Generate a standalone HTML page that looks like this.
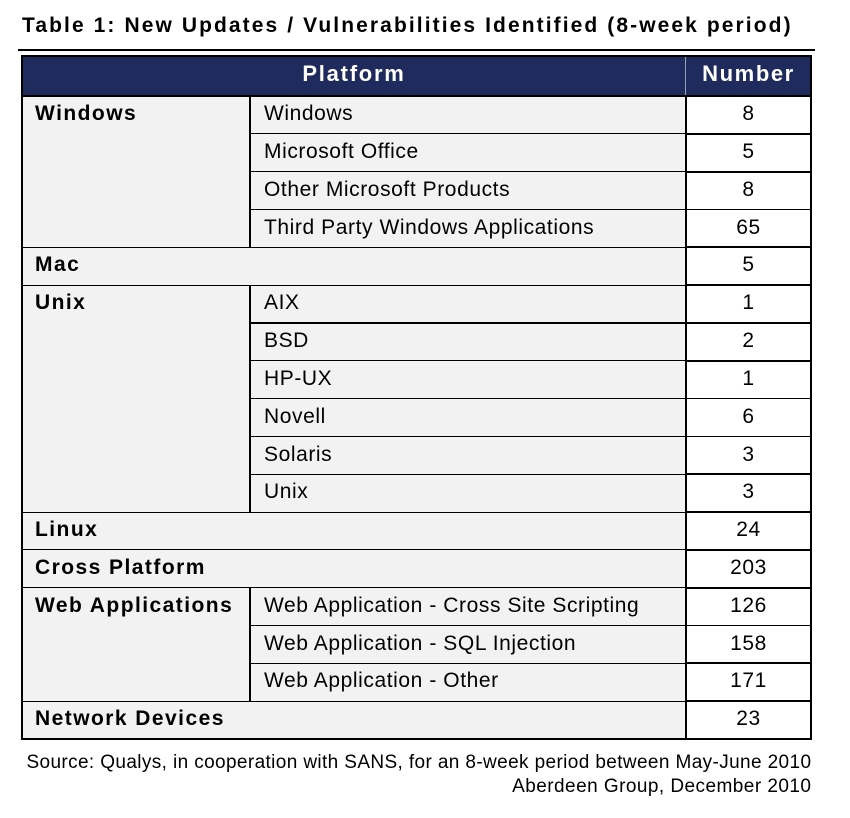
<!DOCTYPE html>
<html><head><meta charset="utf-8">
<style>
html,body{margin:0;padding:0;background:#fff;}
body{width:850px;height:818px;position:relative;overflow:hidden;font-family:"Liberation Sans",sans-serif;color:#000;}
div{position:absolute;}
.l{background:#000;}
.t{font-size:21px;line-height:24px;white-space:nowrap;letter-spacing:0.58px;}
.b{font-weight:bold;letter-spacing:1.45px;}
.n{left:686px;width:125px;text-align:center;}
.c1{left:35px;}
.c2{left:264px;}
</style></head><body>

<div style="left:22px;top:14px;font-size:21px;line-height:24px;font-weight:bold;letter-spacing:2.09px;white-space:nowrap;">Table 1: New Updates / Vulnerabilities Identified (8-week period)</div>
<div class="l" style="left:18px;top:49px;width:797px;height:2px;"></div>

<!-- backgrounds -->
<div style="left:22px;top:56px;width:789px;height:40px;background:#1f2a5d;"></div>
<div style="left:22px;top:96px;width:664px;height:643px;background:#f2f2f2;"></div>
<div style="left:686px;top:96px;width:125px;height:643px;background:#fff;"></div>

<!-- header text -->
<div style="left:22px;width:664px;top:61px;text-align:center;color:#fff;font-size:22px;line-height:26px;font-weight:bold;letter-spacing:1.75px;white-space:nowrap;">Platform</div>
<div style="left:686px;width:125px;top:61px;text-align:center;color:#fff;font-size:22px;line-height:26px;font-weight:bold;letter-spacing:1.6px;white-space:nowrap;">Number</div>
<div style="left:685px;top:57px;width:1px;height:39px;background:#9aa0b8;"></div>

<!-- borders -->
<div class="l" style="left:21px;top:55px;width:791px;height:2px;"></div>
<div class="l" style="left:21px;top:55px;width:2px;height:685px;"></div>
<div class="l" style="left:810px;top:55px;width:2px;height:685px;"></div>
<div class="l" style="left:21px;top:738px;width:791px;height:2px;"></div>
<div class="l" style="left:22px;top:95.3px;width:789px;height:1.5px;"></div>
<div class="l" style="left:685px;top:96px;width:2px;height:643px;"></div>

<!-- full-width group lines (22-686) -->
<div class="l" style="left:22px;top:246.8px;width:664px;height:1.2px;"></div>
<div class="l" style="left:22px;top:284.6px;width:664px;height:1.2px;"></div>
<div class="l" style="left:22px;top:511.5px;width:664px;height:1.2px;"></div>
<div class="l" style="left:22px;top:549.3px;width:664px;height:1.2px;"></div>
<div class="l" style="left:22px;top:587.1px;width:664px;height:1.2px;"></div>
<div class="l" style="left:22px;top:700.6px;width:664px;height:1.2px;"></div>

<!-- column 2 inner lines (250-686) -->
<div class="l" style="left:250px;top:133.3px;width:436px;height:1.2px;"></div>
<div class="l" style="left:250px;top:171.1px;width:436px;height:1.2px;"></div>
<div class="l" style="left:250px;top:208.9px;width:436px;height:1.2px;"></div>
<div class="l" style="left:250px;top:322.4px;width:436px;height:1.2px;"></div>
<div class="l" style="left:250px;top:360.2px;width:436px;height:1.2px;"></div>
<div class="l" style="left:250px;top:398px;width:436px;height:1.2px;"></div>
<div class="l" style="left:250px;top:435.8px;width:436px;height:1.2px;"></div>
<div class="l" style="left:250px;top:473.6px;width:436px;height:1.2px;"></div>
<div class="l" style="left:250px;top:624.9px;width:436px;height:1.2px;"></div>
<div class="l" style="left:250px;top:662.7px;width:436px;height:1.2px;"></div>

<!-- number column lines -->
<div class="l" style="left:686px;top:133px;width:125px;height:1.8px;"></div>
<div class="l" style="left:686px;top:170.8px;width:125px;height:1.8px;"></div>
<div class="l" style="left:686px;top:208.6px;width:125px;height:1.8px;"></div>
<div class="l" style="left:686px;top:246.4px;width:125px;height:1.8px;"></div>
<div class="l" style="left:686px;top:284.2px;width:125px;height:1.8px;"></div>
<div class="l" style="left:686px;top:322px;width:125px;height:1.8px;"></div>
<div class="l" style="left:686px;top:359.8px;width:125px;height:1.8px;"></div>
<div class="l" style="left:686px;top:397.7px;width:125px;height:1.8px;"></div>
<div class="l" style="left:686px;top:435.5px;width:125px;height:1.8px;"></div>
<div class="l" style="left:686px;top:473.3px;width:125px;height:1.8px;"></div>
<div class="l" style="left:686px;top:511.1px;width:125px;height:1.8px;"></div>
<div class="l" style="left:686px;top:548.9px;width:125px;height:1.8px;"></div>
<div class="l" style="left:686px;top:586.8px;width:125px;height:1.8px;"></div>
<div class="l" style="left:686px;top:624.6px;width:125px;height:1.8px;"></div>
<div class="l" style="left:686px;top:662.4px;width:125px;height:1.8px;"></div>
<div class="l" style="left:686px;top:700.2px;width:125px;height:1.8px;"></div>

<!-- vertical lines at x=250 -->
<div class="l" style="left:249.3px;top:96px;width:1.4px;height:152px;"></div>
<div class="l" style="left:249.3px;top:285px;width:1.4px;height:227.5px;"></div>
<div class="l" style="left:249.3px;top:587.5px;width:1.4px;height:114px;"></div>

<!-- row text -->
<div class="t b c1" style="top:102.1px;">Windows</div>
<div class="t c2" style="top:102.1px;">Windows</div>
<div class="t n" style="top:102.1px;">8</div>

<div class="t c2" style="top:139.9px;">Microsoft Office</div>
<div class="t n" style="top:139.9px;">5</div>

<div class="t c2" style="top:177.7px;">Other Microsoft Products</div>
<div class="t n" style="top:177.7px;">8</div>

<div class="t c2" style="top:215.6px;">Third Party Windows Applications</div>
<div class="t n" style="top:215.6px;">65</div>

<div class="t b c1" style="top:253.4px;">Mac</div>
<div class="t n" style="top:253.4px;">5</div>

<div class="t b c1" style="top:291.2px;">Unix</div>
<div class="t c2" style="top:291.2px;">AIX</div>
<div class="t n" style="top:291.2px;">1</div>

<div class="t c2" style="top:329px;">BSD</div>
<div class="t n" style="top:329px;">2</div>

<div class="t c2" style="top:366.8px;">HP-UX</div>
<div class="t n" style="top:366.8px;">1</div>

<div class="t c2" style="top:404.7px;">Novell</div>
<div class="t n" style="top:404.7px;">6</div>

<div class="t c2" style="top:442.5px;">Solaris</div>
<div class="t n" style="top:442.5px;">3</div>

<div class="t c2" style="top:480.3px;">Unix</div>
<div class="t n" style="top:480.3px;">3</div>

<div class="t b c1" style="top:518.1px;">Linux</div>
<div class="t n" style="top:518.1px;">24</div>

<div class="t b c1" style="top:555.9px;">Cross Platform</div>
<div class="t n" style="top:555.9px;">203</div>

<div class="t b c1" style="top:593.8px;">Web Applications</div>
<div class="t c2" style="top:593.8px;">Web Application - Cross Site Scripting</div>
<div class="t n" style="top:593.8px;">126</div>

<div class="t c2" style="top:631.6px;">Web Application - SQL Injection</div>
<div class="t n" style="top:631.6px;">158</div>

<div class="t c2" style="top:669.4px;">Web Application - Other</div>
<div class="t n" style="top:669.4px;">171</div>

<div class="t b c1" style="top:707.2px;">Network Devices</div>
<div class="t n" style="top:707.2px;">23</div>

<!-- source -->
<div style="right:38.6px;top:752.4px;font-size:19px;line-height:22px;letter-spacing:0.38px;white-space:nowrap;text-align:right;">Source: Qualys, in cooperation with SANS, for an 8-week period between May-June 2010</div>
<div style="right:38.6px;top:775.7px;font-size:19px;line-height:22px;letter-spacing:0.45px;white-space:nowrap;text-align:right;">Aberdeen Group, December 2010</div>

</body></html>
